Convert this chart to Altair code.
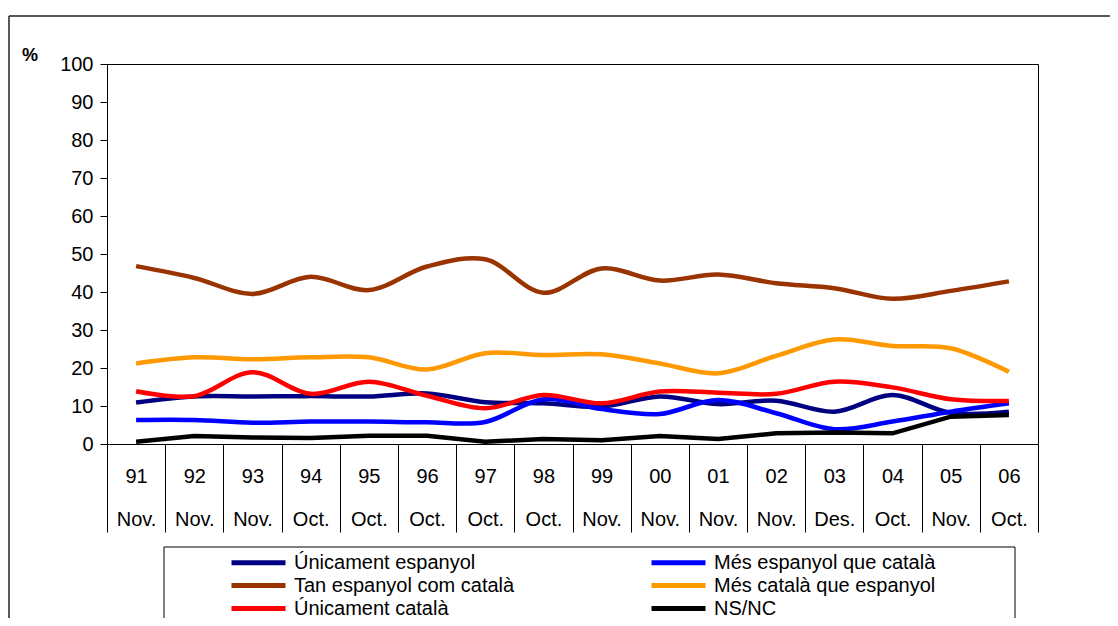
import altair as alt
import pandas as pd

years = ["91", "92", "93", "94", "95", "96", "97", "98", "99", "00", "01", "02", "03", "04", "05", "06"]
months = ["Nov.", "Nov.", "Nov.", "Oct.", "Oct.", "Oct.", "Oct.", "Oct.", "Nov.", "Nov.", "Nov.", "Nov.", "Des.", "Oct.", "Nov.", "Oct."]

# legend order (column-major, 3 rows x 2 columns)
series = ["Únicament espanyol", "Tan espanyol com català", "Únicament català",
          "Més espanyol que català", "Més català que espanyol", "NS/NC"]
colors = ["#000080", "#993300", "#FF0000", "#0000FF", "#FF9900", "#000000"]

unicament_espanyol = [10.9, 12.5, 12.5, 12.6, 12.5, 13.3, 11.0, 10.7, 9.8, 12.5, 10.5, 11.4, 8.5, 12.9, 8.2, 8.5]
tan_espanyol = [46.8, 43.7, 39.5, 44.0, 40.5, 46.7, 48.6, 39.8, 46.2, 43.0, 44.6, 42.3, 41.0, 38.2, 40.3, 42.8]
unicament_catala = [13.9, 12.6, 18.9, 13.2, 16.4, 12.7, 9.4, 12.9, 10.7, 13.8, 13.5, 13.2, 16.4, 14.9, 11.8, 11.3]
mes_espanyol = [6.3, 6.3, 5.6, 5.9, 5.9, 5.7, 5.8, 11.8, 9.2, 7.9, 11.6, 8.1, 3.9, 5.9, 8.5, 10.7]
mes_catala = [21.2, 22.8, 22.3, 22.8, 22.8, 19.6, 23.9, 23.4, 23.6, 21.2, 18.6, 23.2, 27.5, 25.8, 25.2, 19.0]
ns_nc = [0.6, 2.1, 1.7, 1.6, 2.2, 2.2, 0.6, 1.3, 1.0, 2.1, 1.3, 2.8, 3.0, 2.8, 7.2, 7.6]

values = [unicament_espanyol, tan_espanyol, unicament_catala, mes_espanyol, mes_catala, ns_nc]
# drawing order as in the original (later series on top)
draw_rank = {"Únicament espanyol": 0, "Més espanyol que català": 1, "Tan espanyol com català": 2,
             "Més català que espanyol": 3, "Únicament català": 4, "NS/NC": 5}
cats = [f"{y}|{m}" for y, m in zip(years, months)]

rows = []
for name, vals in zip(series, values):
    for ci, (c, v) in enumerate(zip(cats, vals)):
        rows.append({"cat": c, "serie": name, "value": v, "i": ci, "rank": draw_rank[name]})
df = pd.DataFrame(rows).sort_values(["rank", "i"]).reset_index(drop=True)

FONT = "Liberation Sans"

x_enc = alt.X(
    "cat:N", sort=cats, bandPosition=0.5,
    scale=alt.Scale(type="band", paddingInner=0, paddingOuter=0),
    axis=alt.Axis(
        title=None, labelExpr="isValid(datum.value) ? split(datum.value, '|') : ''", labelAngle=0,
        tickBand="extent", tickSize=88, tickColor="black", domainColor="black",
        labelPadding=-66, labelLineHeight=43, labelBaseline="top", labelAlign="center",
        labelFont=FONT, labelFontSize=20, labelColor="black",
    ),
)
y_enc = alt.Y(
    "value:Q", scale=alt.Scale(domain=[0, 100]),
    axis=alt.Axis(
        title=None, values=list(range(0, 101, 10)), grid=False,
        tickSize=7, tickColor="black", domainColor="black", labelPadding=7,
        labelFont=FONT, labelFontSize=20, labelColor="black",
    ),
)
color_enc = alt.Color(
    "serie:N",
    scale=alt.Scale(domain=series, range=colors),
    legend=alt.Legend(
        title=None, orient="none", legendX=139, legendY=486, columns=2,
        columnPadding=126, rowPadding=-1, padding=0,
        symbolType="M-2.7,0H2.7", symbolSize=400, symbolStrokeWidth=5,
        labelOffset=23, labelFont=FONT, labelFontSize=20, labelColor="black",
        labelLimit=500,
    ),
)

base = alt.Chart(df)
smooth = base.transform_filter(alt.datum.serie != "NS/NC").mark_line(
    strokeWidth=4.5, interpolate="catmull-rom"
).encode(x=x_enc, y=y_enc, color=color_enc, order="i:Q")
straight = base.transform_filter(alt.datum.serie == "NS/NC").mark_line(
    strokeWidth=4.5
).encode(x=x_enc, y=y_enc, color=color_enc, order="i:Q")

dummy = alt.Chart(pd.DataFrame({"k": [0]}))
legend_box = dummy.mark_rect(fillOpacity=0, stroke="black", strokeWidth=1).encode(
    x=alt.value(57), x2=alt.value(908), y=alt.value(483), y2=alt.value(561)
)
frame_top = dummy.mark_rule(color="#222222", strokeWidth=1.5).encode(
    x=alt.value(-98), x2=alt.value(1010), y=alt.value(-48)
)
frame_left = dummy.mark_rule(color="#222222", strokeWidth=1.5).encode(
    x=alt.value(-98), y=alt.value(-48), y2=alt.value(570)
)
pct = dummy.mark_text(text="%", font=FONT, fontSize=18, fontWeight="bold", color="black").encode(
    x=alt.value(-77), y=alt.value(-8)
)

chart = alt.layer(frame_top, frame_left, legend_box, pct, smooth, straight).properties(
    width=931, height=380,
    autosize=alt.AutoSizeParams(type="none"),
    padding={"left": 99, "top": 56, "right": 72, "bottom": 174},
).configure_view(stroke="black", strokeWidth=1)

chart.save("out.html", embed_options={"renderer": "svg", "actions": False})
